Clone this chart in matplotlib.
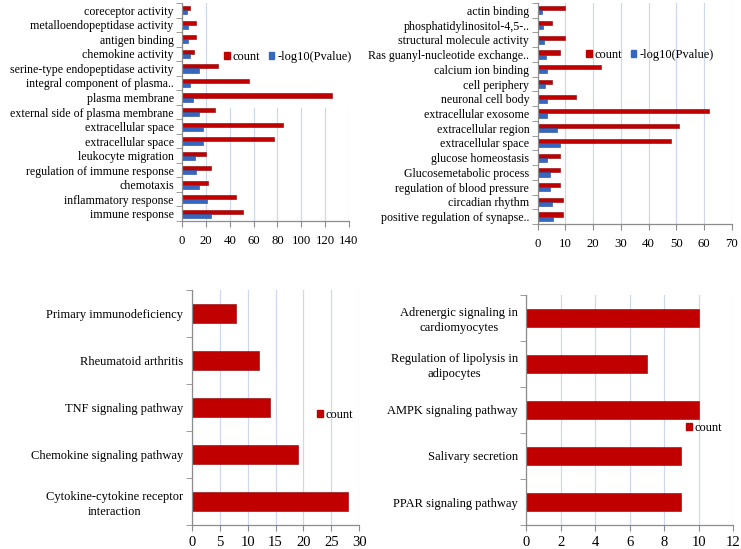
import numpy as np
import matplotlib
matplotlib.use("Agg")
import matplotlib.pyplot as plt
import matplotlib.patches as mpatches

plt.rcParams['font.family'] = ['Liberation Serif', 'DejaVu Serif']

# --- GO terms, panel A (bottom to top) ---
go1_terms = ["immune response", "inflammatory response", "chemotaxis",
             "regulation of immune response", "leukocyte migration",
             "extracellular space", "extracellular space",
             "external side of plasma membrane", "plasma membrane",
             "integral component of plasma..", "serine-type endopeptidase activity",
             "chemokine activity", "antigen binding",
             "metalloendopeptidase activity", "coreceptor activity"]
go1_count = [51, 45, 22, 24, 20, 77, 85, 28, 126, 56, 30, 10, 12, 12, 7]
go1_logp = [24, 21, 14, 12, 11, 18, 18, 14.5, 9.5, 6.5, 14, 6.5, 5, 5, 4.5]

# --- GO terms, panel B (bottom to top) ---
go2_terms = ["positive regulation of synapse..", "circadian rhythm",
             "regulation of blood pressure", "Glucosemetabolic process",
             "glucose homeostasis", "extracellular space", "extracellular region",
             "extracellular exosome", "neuronal cell body", "cell periphery",
             "calcium ion binding", "Ras guanyl-nucleotide exchange..",
             "structural molecule activity", "phosphatidylinositol-4,5-..",
             "actin binding"]
go2_count = [9, 9, 8, 8, 8, 48, 51, 62, 14, 5, 23, 8, 10, 5, 10]
go2_logp = [5.5, 5, 4.5, 4.5, 3.4, 8.1, 7, 3.4, 3.4, 2.8, 3.4, 3, 2.2, 1.9, 1.6]

# --- KEGG pathways (bottom to top) ---
kegg1_terms = ["Cytokine-cytokine receptor\ninteraction", "Chemokine signaling pathway",
               "TNF signaling pathway", "Rheumatoid arthritis",
               "Primary immunodeficiency"]
kegg1_count = [28, 19, 14, 12, 8]

kegg2_terms = ["PPAR signaling pathway", "Salivary secretion",
               "AMPK signaling pathway", "Regulation of lipolysis in\nadipocytes",
               "Adrenergic signaling in\ncardiomyocytes"]
kegg2_count = [9, 9, 10, 7, 10]

RED = '#C00000'
BLUE = '#3566C0'
GRID = '#CDD8EA'
AXIS = '#8C8C8C'


def style_axis(ax, n, xmax, step, fs, xfs, xpad):
    ax.set_xlim(0, xmax)
    ax.set_ylim(-0.5, n - 0.5)
    ax.set_xticks(np.arange(0, xmax + step / 2, step))
    ax.set_yticks(np.arange(n))
    ax.set_yticks(np.arange(-0.5, n, 1), minor=True)
    ax.tick_params(axis='y', which='major', length=0, labelsize=fs, pad=6)
    ax.tick_params(axis='y', which='minor', length=4, color=AXIS)
    ax.tick_params(axis='x', length=4, color=AXIS, labelsize=xfs, pad=xpad)
    ax.xaxis.grid(True, color=GRID, linewidth=0.9)
    ax.set_axisbelow(True)
    for s in ['top', 'right']:
        ax.spines[s].set_visible(False)
    for s in ['left', 'bottom']:
        ax.spines[s].set_color(AXIS)
        ax.spines[s].set_linewidth(0.9)


def go_panel(ax, terms, count, logp, xmax, step):
    y = np.arange(len(terms))
    h = 0.28
    ax.barh(y + h / 2, count, height=h, color=RED, edgecolor='#8E0000',
            linewidth=0.4, zorder=2)
    ax.barh(y - h / 2, logp, height=h, color=BLUE, edgecolor='#1F4A94',
            linewidth=0.4, zorder=2)
    ax.set_yticklabels(terms)
    style_axis(ax, len(terms), xmax, step, 8.6, 9.2, 6)


def kegg_panel(ax, terms, count, xmax, step):
    y = np.arange(len(terms))
    ax.barh(y, count, height=0.4, color=RED, edgecolor='#8E0000',
            linewidth=0.4, zorder=2)
    ax.set_yticklabels(terms, linespacing=1.3, multialignment='center')
    style_axis(ax, len(terms), xmax, step, 9, 10.5, 4)


fig = plt.figure(figsize=(7.41, 5.49), dpi=100)

ax1 = fig.add_axes([0.2456, 0.5974, 0.2254, 0.397])
ax2 = fig.add_axes([0.7256, 0.592, 0.2618, 0.4026])
ax3 = fig.add_axes([0.2587, 0.0437, 0.2262, 0.428])
ax4 = fig.add_axes([0.7099, 0.0437, 0.2794, 0.419])

go_panel(ax1, go1_terms, go1_count, go1_logp, 140, 20)
go_panel(ax2, go2_terms, go2_count, go2_logp, 70, 10)
kegg_panel(ax3, kegg1_terms, kegg1_count, 30, 5)
kegg_panel(ax4, kegg2_terms, kegg2_count, 12, 2)

# white legend area hiding the grid in panel A
ax1.add_patch(mpatches.Rectangle((0.2, 0.518), 0.85, 0.5, transform=ax1.transAxes,
                                 facecolor='white', edgecolor='none', zorder=1,
                                 clip_on=False))

red_patch = mpatches.Patch(color=RED, label='count')
blue_patch = mpatches.Patch(color=BLUE, label='-log10(Pvalue)')

leg_kw = dict(frameon=False, handlelength=0.45, handleheight=0.45,
              handletextpad=0.25, columnspacing=0.7, borderaxespad=0)
fig.legend(handles=[red_patch, blue_patch], ncol=2, fontsize=8.9,
           loc='center left', bbox_to_anchor=(219 / 741, 1 - 57 / 549), **leg_kw)
fig.legend(handles=[red_patch, blue_patch], ncol=2, fontsize=8.9,
           loc='center left', bbox_to_anchor=(581 / 741, 1 - 55 / 549), **leg_kw)
fig.legend(handles=[red_patch], fontsize=8.9,
           loc='center left', bbox_to_anchor=(312 / 741, 1 - 415 / 549), **leg_kw)
fig.legend(handles=[red_patch], fontsize=8.9,
           loc='center left', bbox_to_anchor=(681 / 741, 1 - 428 / 549), **leg_kw)

fig.savefig('out.png', dpi=100)
